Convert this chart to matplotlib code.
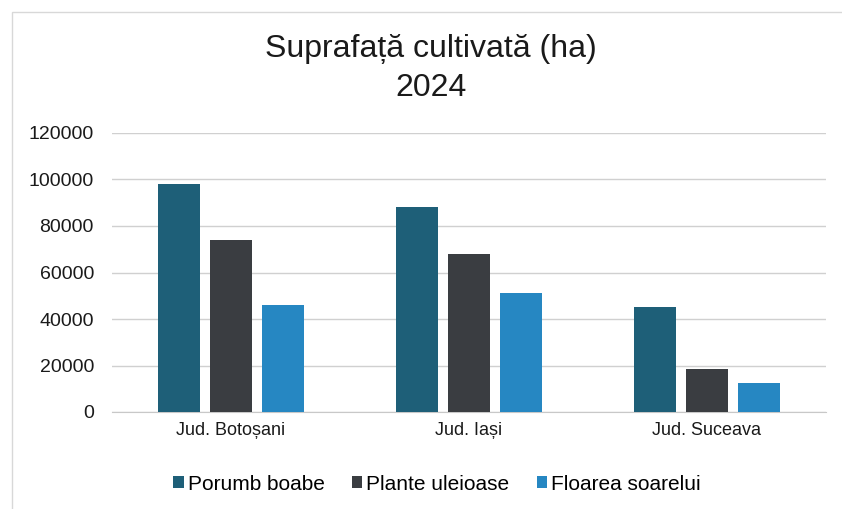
import matplotlib.pyplot as plt
import numpy as np
from matplotlib.patches import Rectangle

plt.rcParams['font.family'] = ['Liberation Sans', 'DejaVu Sans']

judete = ['Jud. Botoșani', 'Jud. Iași', 'Jud. Suceava']
serii = ['Porumb boabe', 'Plante uleioase', 'Floarea soarelui']
porumb = [98000, 88000, 45000]
uleioase = [74000, 68000, 18500]
floarea = [46000, 51000, 12500]
culori = ['#1e5f78', '#3a3d41', '#2687c2']

fig = plt.figure(figsize=(8.42, 5.09), dpi=100)
ax = fig.add_axes([112 / 842, 1 - 412 / 509, (826 - 112) / 842, (412 - 133) / 509])

x = np.arange(len(judete))
w = 0.176
step = 0.22
for k, (vals, nume) in enumerate(zip([porumb, uleioase, floarea], serii)):
    ax.bar(x + (k - 1) * step, vals, width=w, color=culori[k], label=nume, zorder=3)

ax.set_xlim(-0.5, 2.5)
ax.set_ylim(0, 120000)
ax.set_yticks(range(0, 120001, 20000))
ax.grid(axis='y', color='#d0d0d0', linewidth=1, zorder=0)
for s in ['top', 'right', 'left']:
    ax.spines[s].set_visible(False)
ax.spines['bottom'].set_color('#c8c8c8')
ax.tick_params(axis='both', length=0, colors='#1a1a1a')
ax.tick_params(axis='y', pad=13, labelsize=14)
ax.tick_params(axis='x', pad=7, labelsize=13)
ax.set_xticks(x)
ax.set_xticklabels(judete)

fig.text(0.512, 1 - 49 / 509, 'Suprafață cultivată (ha)', ha='center', va='center',
         fontsize=23, color='#1a1a1a')
fig.text(0.512, 1 - 88 / 509, '2024', ha='center', va='center', fontsize=23, color='#1a1a1a')

fig.legend(loc='center', bbox_to_anchor=(0.519, 1 - 484 / 509), ncol=3, frameon=False,
           fontsize=15, handlelength=0.5, handleheight=0.5, handletextpad=0.2,
           columnspacing=1.3)

# chenarul graficului
fig.patches.append(Rectangle((12 / 842, -0.01), 1.0, 1 - 12 / 509 + 0.01, transform=fig.transFigure,
                             fill=False, edgecolor='#d8d8d8', linewidth=1))

fig.savefig('out.png', dpi=100)
